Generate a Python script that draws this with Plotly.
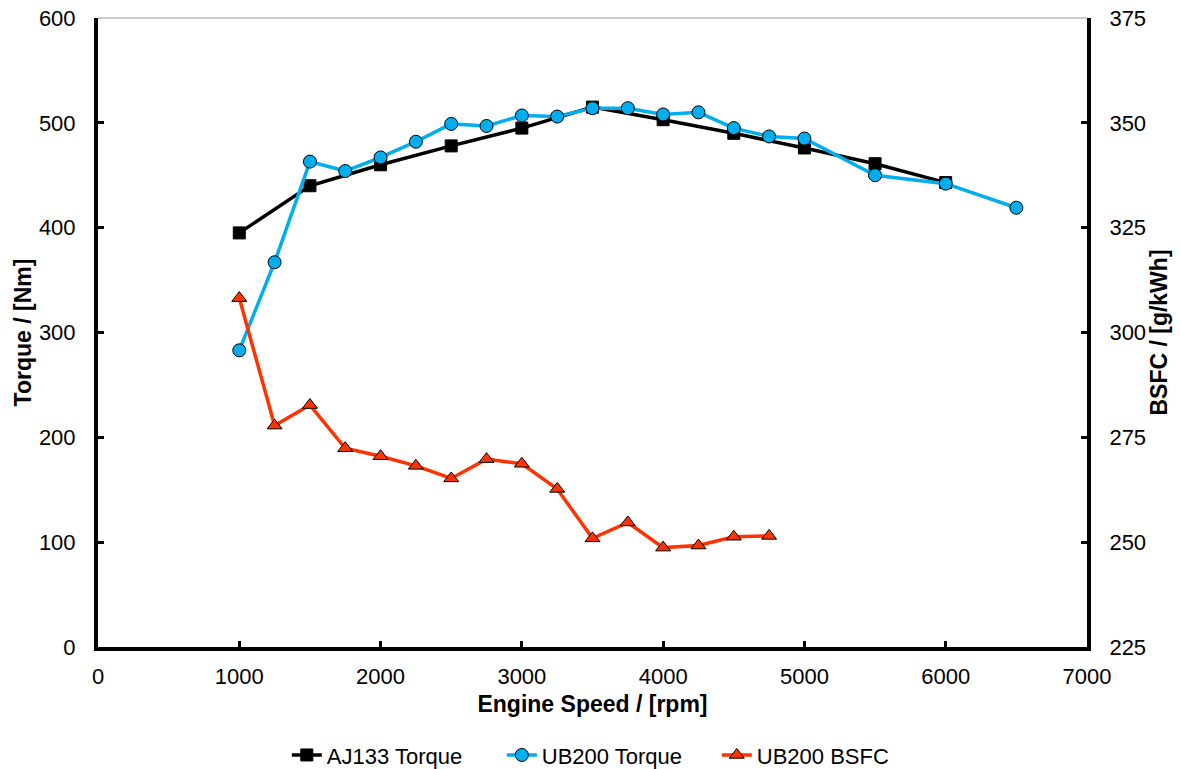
import plotly.graph_objects as go

aj_speed = [1000, 1500, 2000, 2500, 3000, 3500, 4000, 4500, 5000, 5500, 6000]
aj_torque = [395, 440, 460, 478, 495, 515, 503, 490, 476, 461, 443]

ub_speed = [1000, 1250, 1500, 1750, 2000, 2250, 2500, 2750, 3000, 3250, 3500, 3750,
            4000, 4250, 4500, 4750, 5000, 5500, 6000, 6500]
ub_torque = [283, 367, 463, 454, 467, 482, 499, 497, 507, 506, 514, 514,
             508, 510, 495, 487, 485, 450, 442, 419]

bsfc_speed = [1000, 1250, 1500, 1750, 2000, 2250, 2500, 2750, 3000, 3250, 3500, 3750,
              4000, 4250, 4500, 4750]
bsfc = [308.2, 277.8, 282.7, 272.4, 270.5, 268.2, 265.2, 269.8, 268.7, 262.7, 250.9, 254.7,
        248.7, 249.2, 251.3, 251.5]

FONT = "Liberation Sans, Arial, sans-serif"
TICK_SIZE = 22
TITLE_SIZE = 23

fig = go.Figure()
fig.add_trace(go.Scatter(
    x=aj_speed, y=aj_torque, name="AJ133 Torque", mode="lines+markers",
    line=dict(color="black", width=3.5),
    marker=dict(symbol="square", size=12, color="black", line=dict(color="black", width=1)),
))
fig.add_trace(go.Scatter(
    x=ub_speed, y=ub_torque, name="UB200 Torque", mode="lines+markers",
    line=dict(color="#00AEEF", width=3.5),
    marker=dict(symbol="circle", size=13, color="#00AEEF", line=dict(color="black", width=1)),
))
fig.add_trace(go.Scatter(
    x=bsfc_speed, y=bsfc, name="UB200 BSFC", mode="lines+markers", yaxis="y2",
    line=dict(color="#FF3300", width=3.5),
    marker=dict(symbol="triangle-up", size=13, color="#FF3300", line=dict(color="black", width=1)),
))

axis_common = dict(
    showgrid=False, zeroline=False, showline=True, linecolor="black", linewidth=4,
    ticks="inside", tickcolor="black", ticklen=6, tickwidth=3,
    tickfont=dict(family=FONT, size=TICK_SIZE, color="black"),
    automargin=False,
)

fig.update_layout(
    width=1180, height=769,
    paper_bgcolor="white", plot_bgcolor="white",
    margin=dict(l=98, r=93, t=18, b=122),
    font=dict(family=FONT, color="black"),
    xaxis=dict(
        range=[0, 7000], tickvals=[0, 1000, 2000, 3000, 4000, 5000, 6000, 7000],
        ticklabelstandoff=7,
        title=dict(text="<b>Engine Speed / [rpm]</b>", font=dict(family=FONT, size=TITLE_SIZE), standoff=8),
        **axis_common,
    ),
    yaxis=dict(
        range=[0, 600], tickvals=[0, 100, 200, 300, 400, 500, 600],
        ticklabelstandoff=14,
        title=dict(text="<b>Torque / [Nm]</b>", font=dict(family=FONT, size=TITLE_SIZE), standoff=2),
        **axis_common,
    ),
    yaxis2=dict(
        range=[225, 375], tickvals=[225, 250, 275, 300, 325, 350, 375],
        overlaying="y", side="right",
        ticklabelstandoff=14,
        title=dict(text="<b>BSFC / [g/kWh]</b>", font=dict(family=FONT, size=TITLE_SIZE), standoff=2),
        **axis_common,
    ),
    legend=dict(
        orientation="h", x=0.517, xanchor="center",
        yref="container", y=0.018, yanchor="middle",
        font=dict(family=FONT, size=22, color="black"),
        bgcolor="rgba(0,0,0,0)", itemwidth=30,
        entrywidth=170, entrywidthmode="pixels",
    ),
    shapes=[dict(type="line", xref="paper", yref="paper", x0=0, x1=1, y0=1, y1=1,
                 line=dict(color="#9a9a9a", width=1))],
    showlegend=True,
)

fig.write_html("out.html", config={"displayModeBar": False},
               post_script="document.body.style.margin='0';")
